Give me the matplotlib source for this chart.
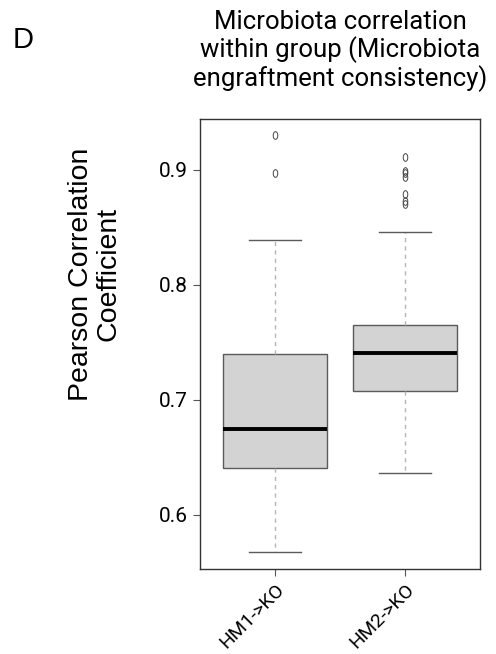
import numpy as np
import matplotlib.pyplot as plt
from matplotlib.path import Path

groups = ['HM1->KO', 'HM2->KO']
q1 = [0.641, 0.708]
med = [0.675, 0.7405]
q3 = [0.740, 0.765]
whislo = [0.5675, 0.636]
whishi = [0.8385, 0.8455]
outliers = [[0.930, 0.897],
            [0.911, 0.899, 0.897, 0.894, 0.879, 0.873, 0.870]]
yticks = [0.6, 0.7, 0.8, 0.9]

plt.rcParams['font.family'] = ['Roboto', 'DejaVu Sans']

stats = []
for i in range(len(groups)):
    stats.append(dict(label=groups[i], q1=q1[i], med=med[i], q3=q3[i],
                      whislo=whislo[i], whishi=whishi[i], fliers=outliers[i]))

# small upright ellipse, like the R open-circle glyph
t = np.linspace(0, 2*np.pi, 40)
oval = Path(np.column_stack([0.6*np.cos(t), np.sin(t)]))

fig = plt.figure(figsize=(4.96, 6.54), dpi=100)
ax = fig.add_axes([0.403, 0.130, 0.565, 0.688])

ax.bxp(stats, positions=[1, 2], widths=0.8, capwidths=0.4, patch_artist=True,
       boxprops=dict(facecolor='#d3d3d3', edgecolor='#5a5a5a', linewidth=1.0),
       medianprops=dict(color='black', linewidth=2.8),
       whiskerprops=dict(color='#b5b5b5', linestyle=(0, (3, 3)), linewidth=1.0),
       capprops=dict(color='#5a5a5a', linewidth=1.0),
       flierprops=dict(marker=oval, markersize=5.5, markerfacecolor='none',
                       markeredgecolor='#444444', markeredgewidth=0.7))

ax.set_xlim(0.423, 2.577)
ax.set_ylim(0.553, 0.944)
ax.set_yticks(yticks)
ax.set_yticklabels([str(v) for v in yticks], fontsize=15)
ax.set_xticks([1, 2])
ax.set_xticklabels(groups, rotation=45, ha='right', rotation_mode='anchor', fontsize=14)
ax.tick_params(axis='both', color='#555555', length=5, width=0.8)
ax.tick_params(axis='x', pad=3)
for s in ax.spines.values():
    s.set_color('#333333')
    s.set_linewidth(1.0)

ax.set_title('Microbiota correlation\nwithin group (Microbiota\nengraftment consistency)',
             fontsize=18.5, pad=24, linespacing=1.1)
ax.set_ylabel('Pearson Correlation\nCoefficient', fontsize=20.5,
              family=['Liberation Sans Narrow', 'Liberation Sans'],
              linespacing=1.05)
ax.yaxis.set_label_coords(-0.28, 0.655)
fig.text(0.026, 0.927, 'D', fontsize=21, family=['Liberation Sans'])

fig.savefig('out.png', dpi=100)
